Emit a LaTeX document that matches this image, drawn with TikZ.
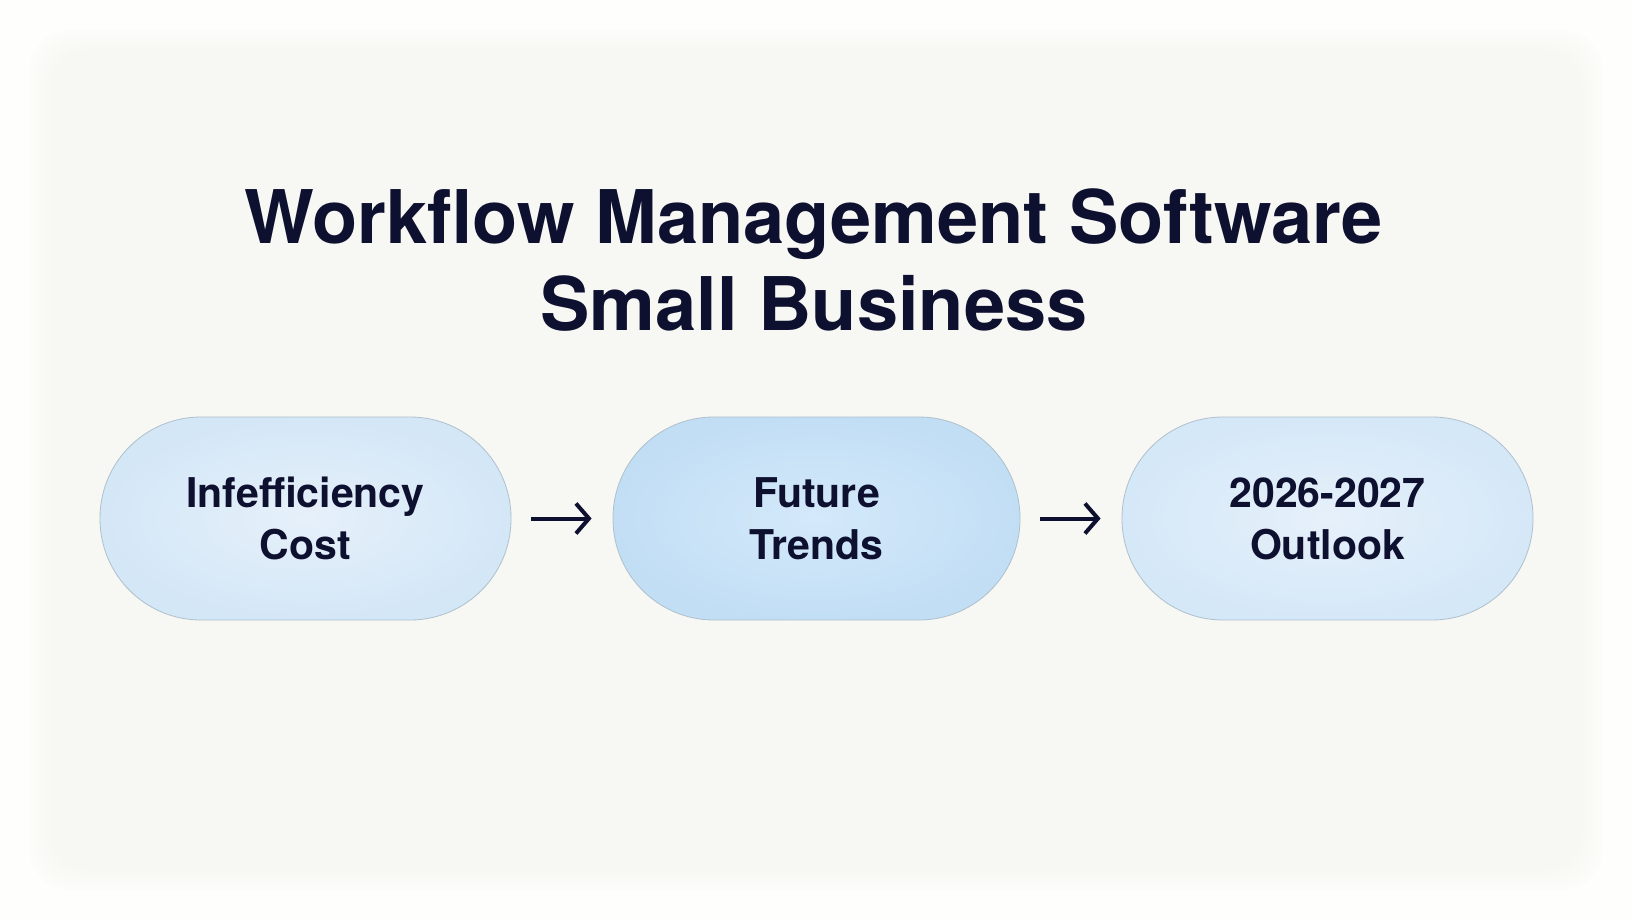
\documentclass[tikz,border=0pt]{standalone}
\usepackage{fontspec}
\setmainfont{TeX Gyre Heros}
\usetikzlibrary{arrows.meta}
\definecolor{ink}{HTML}{0E1030}
\definecolor{bgout}{HTML}{FEFEFC}
\definecolor{bgin}{HTML}{F7F7F3}
\definecolor{pillline}{HTML}{AFC0CC}
\tikzset{
  pill/.style={draw=pillline, line width=0.8pt, rounded corners=101pt, inner sep=0pt,
    minimum width=411pt, minimum height=203pt, align=center, text=ink,
    font=\fontsize{41}{52}\selectfont\bfseries, text height=81pt, text depth=0pt},
  flowarrow/.style={draw=ink, line width=4pt, shorten <=20pt, shorten >=21pt,
    -{Straight Barb[length=13pt,width=30pt,line width=4pt]}},
  titletext/.style={align=center, text=ink, inner sep=0pt,
    font=\fontsize{74}{87}\selectfont\bfseries, text height=141pt, text depth=0pt}
}
\begin{document}
\begin{tikzpicture}[x=1pt,y=1pt]
\useasboundingbox (0,0) rectangle (1632,-920);
\fill[bgout] (0,0) rectangle (1632,-920);
\foreach \i in {0,...,9} {
  \fill[bgin, opacity=0.16, rounded corners=40pt] (30+4*\i,-30-4*\i) rectangle (1602-4*\i,-890+4*\i);
}
\node[titletext, anchor=north] (title) at (814,-189) {Workflow Management Software\\Small Business};
\node[pill, shade, inner color={rgb,255:red,230;green,240;blue,250}, outer color={rgb,255:red,212;green,231;blue,247}] (p1) at (305.5,-518.5) {Infefficiency\\Cost};
\node[pill, minimum width=407pt, shade, inner color={rgb,255:red,212;green,233;blue,250}, outer color={rgb,255:red,194;green,222;blue,245}] (p2) at (816.5,-518.5) {Future\\Trends};
\node[pill, shade, inner color={rgb,255:red,230;green,240;blue,250}, outer color={rgb,255:red,213;green,232;blue,248}] (p3) at (1327.5,-518.5) {2026-2027\\Outlook};
\draw[flowarrow] (p1.east) -- (p2.west);
\draw[flowarrow] (p2.east) -- (p3.west);
\end{tikzpicture}
\end{document}
